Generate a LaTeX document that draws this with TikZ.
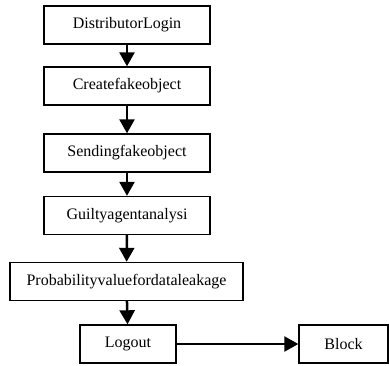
\documentclass[tikz,border=0pt]{standalone}
\usepackage{fontspec}
\setmainfont{Liberation Serif}
\usetikzlibrary{arrows.meta}

\begin{document}
\begin{tikzpicture}[x=1pt,y=-1pt,
    stepbox/.style={rectangle,draw,line width=1.4pt,inner sep=0pt,
        minimum height=38pt,font=\fontsize{16}{18}\selectfont}]
    \useasboundingbox (0,0) rectangle (389,365);
    \draw
    (127,25) node[stepbox,minimum width=166pt](login){DistributorLogin}
    (127,86) node[stepbox,minimum width=166pt](create){Createfakeobject}
    (127,153) node[stepbox,minimum width=166pt](send){Sendingfakeobject}
    (127,215.5) node[stepbox,minimum width=166pt](guilty){Guiltyagentanalysi}
    (126.5,281.5) node[stepbox,minimum width=233pt](prob){Probabilityvaluefordataleakage}
    (128,344) node[stepbox,minimum width=96pt](logout){Logout}
    (343.5,344) node[stepbox,minimum width=89pt](block){Block}
    ;
    \begin{scope}[
        every edge/.style={-{Triangle[length=14pt,width=15pt]},draw=black,line width=2.5pt}]
        \path (login) edge (create);
        \path (create) edge (send);
        \path (send) edge (guilty);
        \path (guilty) edge (prob);
        \path (prob) edge (logout);
        \path (logout) edge (block);
    \end{scope}
\end{tikzpicture}
\end{document}
